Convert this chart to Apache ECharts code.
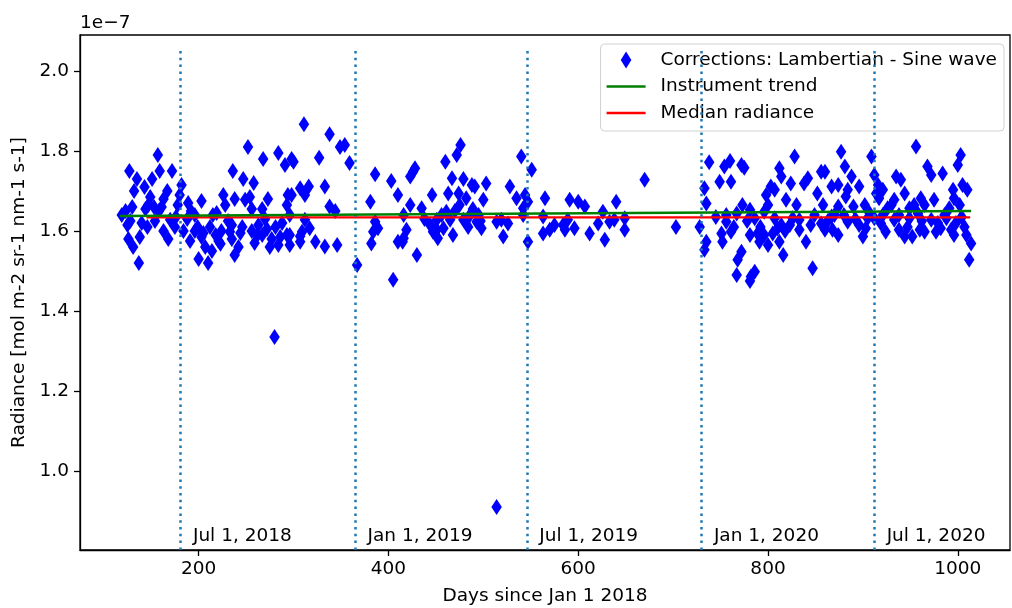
<!DOCTYPE html>
<html>
<head>
<meta charset="utf-8">
<script src="https://cdn.jsdelivr.net/npm/echarts@6/dist/echarts.min.js"></script>
<style>html,body{margin:0;padding:0;background:#fff}#c{width:1012px;height:608px}</style>
</head>
<body>
<div id="c"></div>
<script>
// Radiance values are in units of 1e-7 mol m-2 sr-1 nm-1 s-1
const corrections = [
[127,1.750],[157,1.790],[135,1.730],[132,1.700],[143,1.710],[151,1.730],[159,1.750],[172,1.750],[167,1.700],[163,1.680],
[149,1.685],[147,1.665],[123,1.650],[119,1.640],[130,1.660],[125,1.615],[140,1.620],[146,1.610],[138,1.585],[131,1.560],
[137,1.520],[158,1.650],[163,1.600],[168,1.580],[175,1.610],[182,1.715],[180,1.690],[178,1.665],[189,1.670],[188,1.630],
[184,1.600],[191,1.575],[196,1.600],[203,1.675],[203,1.585],[200,1.530],[210,1.520],[214,1.550],[207,1.560],[215,1.640],
[212,1.610],[224,1.600],[221,1.575],[226,1.690],[228,1.665],[236,1.750],[238,1.680],[247,1.730],[258,1.720],[252,1.810],
[268,1.780],[284,1.795],[291,1.765],[298,1.780],[294,1.690],[254,1.685],[256,1.655],[273,1.680],[267,1.655],[235,1.615],
[235,1.580],[246,1.610],[242,1.560],[238,1.540],[256,1.600],[263,1.615],[267,1.590],[270,1.630],[275,1.560],[277,1.580],
[284,1.565],[288,1.620],[293,1.590],[296,1.565],[293,1.665],[280,1.335],[126,1.580],[153,1.660],[170,1.628],[196,1.640],
[223,1.568],[233,1.598],[249,1.678],[262,1.590],[307,1.587],
[199,1.610],[205,1.595],[218,1.590],[231,1.625],[244,1.595],[259,1.570],[272,1.605],[281,1.610],[286,1.585],[219,1.645],
[192,1.650],[176,1.635],[154,1.625],[144,1.655],[128,1.625],[161,1.660],
[311,1.867],[338,1.842],[349,1.810],[354,1.815],[327,1.783],[300,1.773],[359,1.770],[307,1.707],[316,1.711],[312,1.690],
[333,1.711],[298,1.690],[338,1.661],[344,1.650],[312,1.628],[317,1.607],[309,1.598],[307,1.573],[323,1.573],[333,1.561],
[346,1.565],[296,1.590],[367,1.515],[386,1.742],[381,1.673],[386,1.623],[389,1.607],[384,1.598],[382,1.569],[403,1.725],
[410,1.690],[426,1.748],[423,1.736],[423,1.665],[416,1.640],[435,1.657],[446,1.690],[419,1.603],[410,1.573],[416,1.582],
[430,1.540],[405,1.478],[460,1.773],[472,1.790],[476,1.815],[467,1.732],[479,1.730],[488,1.715],[463,1.694],[474,1.694],
[482,1.682],[475,1.665],[461,1.648],[451,1.628],[447,1.598],[452,1.582],[458,1.607],[468,1.590],[465,1.628],[479,1.628],
[486,1.640],[493,1.623],[296,1.640],[428,1.757],[451,1.603],[415,1.573],
[444,1.615],[456,1.640],[470,1.650],[484,1.610],[497,1.625],[438,1.630],[489,1.655],
[491,1.711],[503,1.719],[500,1.678],[495,1.640],[498,1.607],[514,1.623],[521,1.586],[526,1.619],[519,1.628],[528,1.711],
[535,1.682],[540,1.786],[551,1.753],[544,1.690],[547,1.673],[542,1.657],[542,1.640],[547,1.573],[565,1.682],[563,1.636],
[563,1.594],[570,1.603],[575,1.615],[584,1.615],[586,1.603],[591,1.678],[589,1.628],[596,1.607],[600,1.673],[607,1.661],
[612,1.594],[621,1.619],[626,1.648],[628,1.578],[633,1.623],[640,1.673],[638,1.628],[649,1.632],[649,1.603],[670,1.728],
[514,0.910],[703,1.610],
[728,1.610],[733,1.707],[735,1.669],[735,1.573],[733,1.553],[738,1.772],[754,1.761],[760,1.775],[761,1.723],[749,1.723],
[772,1.765],[775,1.758],[756,1.640],[756,1.623],[751,1.594],[761,1.598],[752,1.573],[767,1.644],[772,1.548],[768,1.528],
[767,1.490],[782,1.486],[786,1.498],[781,1.653],[786,1.632],[781,1.590],[789,1.594],[791,1.573],[800,1.565],[805,1.594],
[803,1.711],[807,1.703],[798,1.690],[800,1.665],[796,1.648],[807,1.632],[810,1.607],[814,1.615],[812,1.757],[814,1.736],
[828,1.786],[824,1.719],[819,1.678],[812,1.573],[816,1.540],[830,1.665],[826,1.632],[833,1.628],[838,1.719],[842,1.732],
[833,1.603],[840,1.573],[847,1.507],[852,1.694],[856,1.748],[849,1.640],[858,1.665],[856,1.619],[781,1.475],[773,1.665],
[796,1.590],[823,1.615],[860,1.603],[870,1.640],[896,1.615],[938,1.640],[960,1.603],[986,1.640],
[745,1.635],[764,1.610],[778,1.625],[792,1.610],[818,1.600],[845,1.615],[863,1.625],[880,1.640],[892,1.630],[907,1.645],
[921,1.640],[947,1.610],[962,1.625],[979,1.620],[998,1.620],[1004,1.635],
[877,1.798],[860,1.748],[881,1.761],[888,1.736],[867,1.711],[874,1.715],[896,1.711],[884,1.703],[882,1.686],[909,1.786],
[912,1.740],[916,1.715],[921,1.703],[914,1.694],[917,1.682],[935,1.736],[940,1.728],[944,1.694],[933,1.678],[956,1.811],
[968,1.761],[972,1.740],[984,1.744],[1000,1.765],[1003,1.790],[995,1.703],[1005,1.715],[1010,1.703],[961,1.682],[965,1.665],
[954,1.665],[949,1.657],[975,1.678],[996,1.682],[1002,1.665],[867,1.636],[874,1.661],[884,1.623],[890,1.661],[868,1.603],
[874,1.590],[902,1.665],[905,1.632],[900,1.586],[903,1.607],[912,1.632],[919,1.619],[924,1.598],[926,1.657],[930,1.665],
[933,1.628],[938,1.603],[944,1.586],[952,1.586],[949,1.632],[958,1.644],[965,1.598],[972,1.628],[977,1.598],[982,1.607],
[988,1.632],[991,1.657],[993,1.603],[996,1.590],[1007,1.610],[1009,1.590],[1014,1.569],[1012,1.528]
];
const trendLine = [[117,1.6375],[1014,1.650]];
const medianLine = [[145,1.634],[1013,1.634]];
const dateMarkDays = [181,365,546,730,912];
const dateMarkNames = ['Jul 1, 2018','Jan 1, 2019','Jul 1, 2019','Jan 1, 2020','Jul 1, 2020'];
const xTicks = [200,400,600,800,1000];
const yTicks = [1.0,1.2,1.4,1.6,1.8,2.0];
const vlineTop = 2.05, vlineBottom = 0.8025;
const labelOffsetDays = 13, labelY = 0.8375;

const FONT = 'DejaVu Sans';
const chart = echarts.init(document.getElementById('c'), null, {renderer:'canvas'});
const option = {
  animation:false,
  textStyle:{fontFamily:FONT},
  grid:{left:80,right:2,top:35,bottom:58,containLabel:false,outerBoundsMode:'none',
    show:true,borderColor:'#000',borderWidth:1.3,backgroundColor:'transparent'},
  xAxis:{type:'value',min:75,max:1055,
    name:'Days since Jan 1 2018',nameLocation:'middle',nameGap:37,
    nameTextStyle:{fontSize:18.5,color:'#000',fontFamily:FONT},
    axisLine:{show:true,lineStyle:{color:'#000',width:1.3}},
    axisTick:{show:true,length:6,lineStyle:{color:'#000',width:1.3},customValues:xTicks},
    axisLabel:{color:'#000',fontSize:18.5,fontFamily:FONT,margin:10,customValues:xTicks,formatter:v=>String(v)},
    splitLine:{show:false}},
  yAxis:{type:'value',min:0.8025,max:2.09,
    name:'Radiance [mol m-2 sr-1 nm-1 s-1]',nameLocation:'middle',nameGap:48,nameRotate:90,
    nameTextStyle:{fontSize:18.5,color:'#000',fontFamily:FONT},
    axisLine:{show:true,lineStyle:{color:'#000',width:1.3}},
    axisTick:{show:true,length:6,lineStyle:{color:'#000',width:1.3},customValues:yTicks},
    axisLabel:{color:'#000',fontSize:18.5,fontFamily:FONT,margin:11,customValues:yTicks,formatter:v=>v.toFixed(1)},
    splitLine:{show:false}},
  legend:{orient:'vertical',right:8,top:44,padding:[6,7,8,6],itemGap:6.5,itemWidth:39,itemHeight:17,
    backgroundColor:'rgba(255,255,255,0.8)',borderColor:'#d0d0d0',borderWidth:1,borderRadius:4,
    textStyle:{fontSize:18.5,color:'#000',fontFamily:FONT,lineHeight:20,padding:[0,0,0,10]},
    data:[{name:'Corrections: Lambertian - Sine wave',icon:'path://M5,0L10,8L5,16L0,8Z'},
          {name:'Instrument trend',icon:'path://M0,0L39,0L39,2.4L0,2.4Z'},
          {name:'Median radiance',icon:'path://M0,0L39,0L39,2.4L0,2.4Z'}]},
  graphic:[{type:'text',left:80,top:14,style:{text:'1e\u22127',fontSize:18.5,fontFamily:FONT,fill:'#000'}}],
  series:[
    {name:'Corrections: Lambertian - Sine wave',type:'scatter',data:corrections,
     symbol:'diamond',symbolSize:[10.5,16],itemStyle:{color:'#0000ff',opacity:1},z:2},
    {name:'dates',type:'scatter',data:dateMarkDays.map((d,i)=>({value:[d+labelOffsetDays,labelY],name:dateMarkNames[i]})),
     symbolSize:0,silent:true,z:3,itemStyle:{opacity:1},
     label:{show:true,position:'right',distance:0,formatter:p=>p.name,color:'#000',opacity:1,fontSize:18.5,fontFamily:FONT},
     markLine:{silent:true,symbol:['none','none'],label:{show:false},
       lineStyle:{color:'#1f77b4',width:2.5,type:[2.5,4.3],cap:'butt'},
       data:dateMarkDays.map(d=>[{coord:[d,vlineTop]},{coord:[d,vlineBottom]}])}},
    {name:'Median radiance',type:'line',data:medianLine,symbol:'none',showSymbol:false,
     lineStyle:{color:'#ff0000',width:2.3},itemStyle:{color:'#ff0000'},z:4},
    {name:'Instrument trend',type:'line',data:trendLine,symbol:'none',showSymbol:false,
     lineStyle:{color:'#008000',width:2.3},itemStyle:{color:'#008000'},z:5}
  ]
};
chart.setOption(option);
</script>
</body>
</html>
